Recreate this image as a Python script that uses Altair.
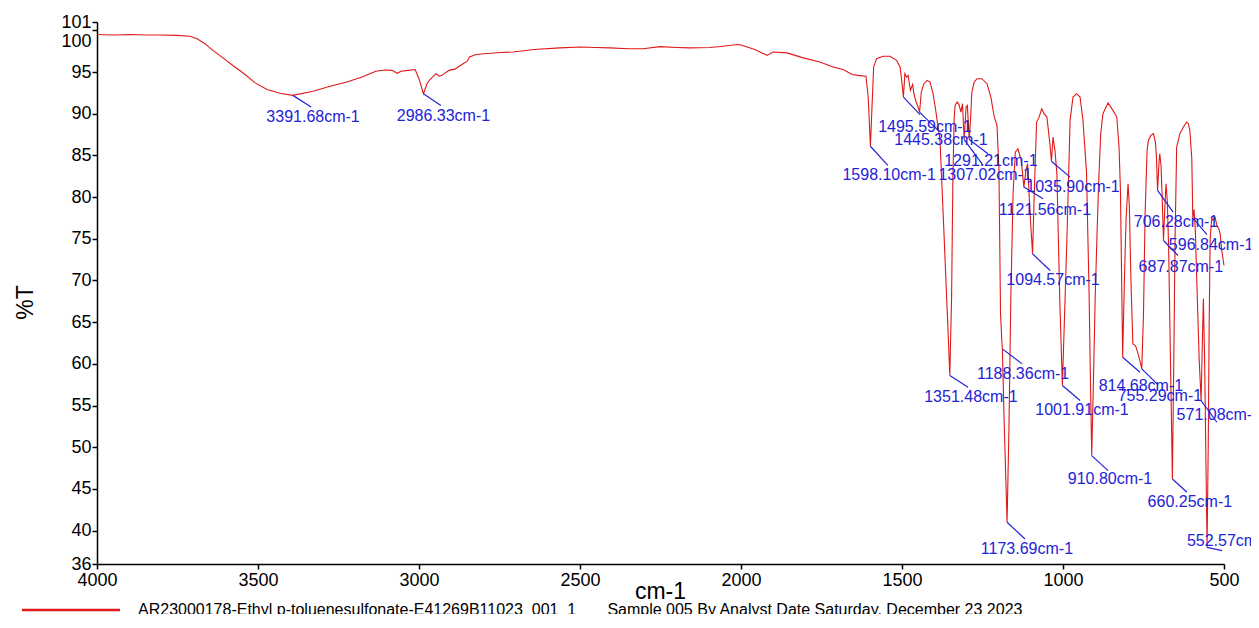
import altair as alt
import pandas as pd

# ---- spectrum (wavenumber cm-1, %T) ----
wavenumber = [
    4000, 3950, 3897, 3850, 3804, 3750, 3711, 3689, 3665, 3640,
    3609, 3575, 3540, 3509, 3472, 3432, 3392, 3329, 3276, 3224,
    3177, 3134, 3106, 3084, 3067, 3056, 3034, 3012, 3000, 2986.3,
    2975, 2966, 2947, 2937, 2929, 2907, 2888, 2879, 2863, 2850,
    2843, 2823, 2798, 2748, 2708, 2643, 2562, 2500, 2450, 2407,
    2350, 2304, 2252, 2200, 2158, 2096, 2056, 2012, 2000, 1981,
    1957, 1941, 1919, 1901, 1857, 1807, 1755, 1714, 1683, 1655,
    1637, 1612, 1605, 1598.1, 1593, 1588, 1579, 1559, 1537, 1517,
    1506, 1501, 1495.6, 1491, 1486, 1481, 1474, 1467, 1463, 1457,
    1450, 1445.4, 1440, 1432, 1422, 1413, 1404, 1396, 1391, 1382,
    1373, 1363, 1356, 1351.5, 1346, 1342, 1338, 1335, 1329, 1323,
    1317, 1312, 1307, 1301, 1297, 1291.2, 1287, 1283, 1276, 1267,
    1252, 1236, 1224, 1214, 1205, 1199, 1194, 1190, 1188.4, 1182,
    1173.7, 1168, 1162, 1155, 1148, 1140, 1131, 1128, 1121.6, 1115,
    1110, 1103, 1094.6, 1089, 1082, 1075, 1066, 1059, 1050, 1041,
    1035.9, 1031, 1025, 1019, 1010, 1001.9, 993, 988, 978, 969,
    958, 947, 938, 927, 919, 915, 910.8, 906, 900, 894,
    889, 883, 876, 860, 845, 833, 826, 821.6, 814.7, 809,
    804, 798, 794, 789, 783, 775, 769, 762, 755.3, 750,
    745, 739, 735, 727, 719, 713, 710, 706.3, 702, 699.5,
    695.5, 692, 687.9, 684, 680, 676, 672, 666, 660.3, 656,
    652, 647, 637, 626, 616, 611, 606, 600, 596.8, 593,
    589, 583, 577, 571.1, 567, 564, 560, 556, 552.6, 549,
    546, 543, 538, 534, 528, 522, 516, 512, 507, 500,
]
transmittance = [
    99.5, 99.45, 99.5, 99.45, 99.45, 99.4, 99.3, 99.0, 98.4, 97.6,
    96.7, 95.7, 94.7, 93.7, 92.9, 92.45, 92.2, 92.7, 93.3, 93.8,
    94.4, 95.1, 95.25, 95.2, 94.85, 95.1, 95.2, 95.3, 94.2, 92.4,
    93.6, 94.1, 94.8, 94.5, 94.6, 95.2, 95.35, 95.6, 96.0, 96.3,
    96.8, 97.1, 97.2, 97.35, 97.4, 97.7, 97.9, 98.0, 97.95, 97.9,
    97.8, 97.8, 98.05, 97.95, 97.9, 97.95, 98.1, 98.3, 98.25, 98.0,
    97.7, 97.4, 97.0, 97.4, 97.3, 96.7, 96.2, 95.6, 95.3, 94.7,
    94.6, 94.5, 92.0, 86.1, 91.0, 95.6, 96.6, 96.9, 96.9, 96.4,
    95.6, 94.0, 92.0, 94.8, 94.4, 94.6, 92.8, 93.5, 92.4, 91.5,
    90.8, 90.2, 92.6, 93.6, 94.0, 93.8, 92.5, 90.6, 89.2, 86.8,
    78.8, 69.5, 63.0, 58.6, 68.0, 82.0, 89.5, 91.0, 91.4, 91.1,
    90.2, 91.2, 86.9, 90.8, 91.0, 86.9, 89.5, 92.6, 93.8, 94.2,
    94.2, 93.6, 92.0, 89.7, 88.6, 83.4, 66.0, 62.8, 61.8, 52.0,
    41.0, 52.0, 68.0, 80.5, 85.4, 85.8, 84.6, 83.8, 81.2, 83.2,
    84.0, 78.5, 73.2, 80.8, 89.0, 89.5, 90.6, 90.0, 89.6, 86.5,
    84.3, 87.2, 85.6, 82.8, 67.6, 57.4, 68.5, 74.8, 89.2, 92.0,
    92.4, 92.0, 89.2, 83.0, 68.5, 58.5, 49.0, 57.0, 68.0, 76.0,
    82.0, 87.5, 90.0, 91.3, 90.4, 89.6, 86.0, 80.8, 60.8, 70.5,
    77.5, 81.6, 79.0, 70.0, 62.4, 62.2, 61.5, 60.5, 59.4, 66.0,
    78.0, 85.5, 86.8, 87.4, 87.6, 86.6, 85.0, 80.8, 84.0, 85.2,
    83.8, 80.0, 74.8, 78.5, 81.6, 79.5, 74.0, 60.0, 46.2, 60.0,
    75.0, 86.0, 87.6, 88.4, 89.0, 88.8, 88.0, 84.6, 77.5, 78.5,
    76.0, 68.0, 60.5, 55.6, 63.0, 67.8, 60.0, 48.0, 38.0, 50.0,
    65.0, 75.0, 77.5, 77.2, 77.6, 76.6, 76.2, 75.6, 73.6, 71.8,
]
assert len(wavenumber) == len(transmittance)

# ---- peak annotations ----
peak_labels = [
    "3391.68cm-1", "2986.33cm-1", "1598.10cm-1", "1495.59cm-1", "1445.38cm-1",
    "1351.48cm-1", "1307.02cm-1", "1291.21cm-1", "1188.36cm-1", "1173.69cm-1",
    "1121.56cm-1", "1094.57cm-1", "1035.90cm-1", "1001.91cm-1", "910.80cm-1",
    "814.68cm-1", "755.29cm-1", "706.28cm-1", "687.87cm-1", "660.25cm-1",
    "596.84cm-1", "571.08cm-1", "552.57cm-1",
]
peak_wn = [3391.68, 2986.33, 1598.10, 1495.59, 1445.38, 1351.48, 1307.02, 1291.21,
           1188.36, 1173.69, 1121.56, 1094.57, 1035.90, 1001.91, 910.80, 814.68,
           755.29, 706.28, 687.87, 660.25, 596.84, 571.08, 552.57]
peak_T = [92.2, 92.4, 86.1, 92.0, 90.2, 58.6, 86.9, 86.9, 61.8, 41.0, 81.2, 73.2,
          84.3, 57.4, 49.0, 60.8, 59.4, 80.8, 74.8, 46.2, 77.5, 55.6, 38.0]
# end of each leader line
lead_wn = [3335, 2932, 1544, 1444, 1388, 1295, 1248, 1233, 1127, 1118, 1062, 1040,
           978, 947, 860, 761, 708, 658, 643, 615, 553, 522, 506]
lead_T = [90.8, 91.0, 83.8, 89.9, 88.0, 57.2, 83.8, 85.2, 60.0, 39.0, 79.8, 71.2,
          82.4, 55.6, 47.2, 59.0, 57.6, 78.2, 73.0, 44.6, 75.5, 53.0, 37.6]
# centre of each label text
text_wn = [3329, 2924, 1540, 1429, 1379, 1286, 1242, 1224, 1124, 1112, 1056, 1031,
           969, 941, 854, 758, 699, 649, 634, 606, 540, 516, 484]
text_T = [89.6, 89.7, 82.6, 88.4, 86.8, 56.0, 82.6, 84.3, 58.8, 37.8, 78.5, 70.0,
          81.2, 54.5, 46.2, 57.4, 56.1, 77.0, 71.6, 43.4, 74.2, 53.9, 38.7]

x_ticks = [4000, 3500, 3000, 2500, 2000, 1500, 1000, 500]
y_ticks = [36, 40, 45, 50, 55, 60, 65, 70, 75, 80, 85, 90, 95, 100, 101]

NB = "\u00a0"
series_name = ("AR23000178-Ethyl p-toluenesulfonate-E41269B11023" + NB * 2 + "001" + NB * 2 + "1"
               + NB * 7 + "Sample 005 By Analyst Date Saturday, December 23 2023")

spec = pd.DataFrame({"wn": wavenumber, "T": transmittance, "series": series_name})
peaks = pd.DataFrame({
    "label": peak_labels, "wn": peak_wn, "T": peak_T,
    "lwn": lead_wn, "lT": lead_T, "twn": text_wn, "tT": text_T,
})

FONT = "Liberation Sans"
RED = "#e01818"
BLUE = "#2323d6"

x_scale = alt.Scale(domain=[500, 4000], reverse=True, nice=False, zero=False)
y_scale = alt.Scale(domain=[36, 101], nice=False, zero=False)

x_axis = alt.Axis(
    values=x_ticks, format="d", title="cm-1", grid=False, labelOverlap=False,
    labelFlush=False,
    labelFont=FONT, labelFontSize=18, labelColor="black", labelPadding=2,
    tickSize=5, tickColor="black", tickWidth=1.5,
    domainColor="black", domainWidth=1.5,
    titleFont=FONT, titleFontSize=23, titleFontWeight="normal", titleColor="black",
    titleX=563, titleY=34, titleAlign="center", titleBaseline="alphabetic",
)
y_axis = alt.Axis(
    values=y_ticks, format="d", title="%T", grid=False, labelOverlap=False,
    labelFont=FONT, labelFontSize=18, labelColor="black", labelPadding=1,
    labelOffset=alt.condition("datum.value == 100", alt.value(11), alt.value(0)),
    tickSize=5, tickColor="black", tickWidth=1.5,
    domainColor="black", domainWidth=1.5,
    titleFont=FONT, titleFontSize=23, titleFontWeight="normal", titleColor="black",
    titleX=-65, titleY=280, titleAngle=270, titleAlign="center", titleBaseline="alphabetic",
)

line = alt.Chart(spec).mark_line(strokeWidth=1.1, interpolate="linear").encode(
    x=alt.X("wn:Q", scale=x_scale, axis=x_axis, title="cm-1"),
    y=alt.Y("T:Q", scale=y_scale, axis=y_axis, title="%T"),
    color=alt.Color("series:N", scale=alt.Scale(range=[RED]), legend=alt.Legend(
        orient="none", legendX=-76.5, legendY=537.5, title=None,
        symbolType="stroke", symbolSize=9604, symbolStrokeWidth=2.5,
        labelFont=FONT, labelFontSize=16, labelColor="black", labelLimit=0,
        labelOffset=16.5, padding=0,
    )),
    order=alt.Order("wn:Q", sort="descending"),
)

leaders = alt.Chart(peaks).mark_rule(color=BLUE, strokeWidth=1.2).encode(
    x=alt.X("wn:Q", scale=x_scale, axis=x_axis, title="cm-1"),
    y=alt.Y("T:Q", scale=y_scale, axis=y_axis, title="%T"),
    x2="lwn:Q", y2="lT:Q",
)

texts = alt.Chart(peaks).mark_text(
    font=FONT, fontSize=16, color=BLUE, align="center", baseline="middle",
).encode(
    x=alt.X("twn:Q", scale=x_scale, axis=x_axis, title="cm-1"),
    y=alt.Y("tT:Q", scale=y_scale, axis=y_axis, title="%T"),
    text="label:N",
)

chart = alt.layer(line, leaders, texts).properties(
    width=1127, height=542, background="white",
    padding={"left": 89, "top": 14, "right": 27, "bottom": 50},
    autosize=alt.AutoSizeParams(type="none"),
).configure_view(stroke=None)

chart.save("out.html", embed_options={"renderer": "svg", "actions": False})
